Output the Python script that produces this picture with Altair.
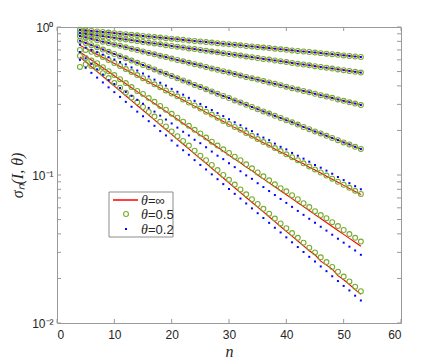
import altair as alt
import pandas as pd

# ---------------- data ----------------
n_values = list(range(4, 54))

red_c1 = [0.957, 0.949, 0.941, 0.933, 0.925, 0.917, 0.909, 0.901, 0.893, 0.885,
          0.878, 0.870, 0.863, 0.855, 0.848, 0.841, 0.834, 0.826, 0.819, 0.812,
          0.805, 0.798, 0.791, 0.785, 0.778, 0.771, 0.765, 0.758, 0.752, 0.745,
          0.739, 0.732, 0.726, 0.720, 0.714, 0.707, 0.701, 0.695, 0.689, 0.683,
          0.678, 0.672, 0.666, 0.660, 0.655, 0.649, 0.643, 0.638, 0.632, 0.627]
red_c2 = [0.911, 0.900, 0.888, 0.877, 0.866, 0.856, 0.845, 0.834, 0.824, 0.814,
          0.803, 0.793, 0.783, 0.774, 0.764, 0.754, 0.745, 0.736, 0.727, 0.717,
          0.709, 0.700, 0.691, 0.682, 0.674, 0.665, 0.657, 0.649, 0.641, 0.633,
          0.625, 0.617, 0.609, 0.602, 0.594, 0.587, 0.579, 0.572, 0.565, 0.558,
          0.551, 0.544, 0.537, 0.531, 0.524, 0.517, 0.511, 0.505, 0.498, 0.492]
red_c3 = [0.869, 0.850, 0.832, 0.814, 0.796, 0.779, 0.762, 0.746, 0.729, 0.714,
          0.698, 0.683, 0.668, 0.654, 0.640, 0.626, 0.612, 0.599, 0.586, 0.573,
          0.561, 0.549, 0.537, 0.525, 0.514, 0.503, 0.492, 0.481, 0.471, 0.460,
          0.450, 0.441, 0.431, 0.422, 0.413, 0.404, 0.395, 0.386, 0.378, 0.370,
          0.362, 0.354, 0.346, 0.339, 0.332, 0.324, 0.317, 0.310, 0.304, 0.297]
red_c4 = [0.808, 0.781, 0.754, 0.729, 0.704, 0.680, 0.657, 0.635, 0.614, 0.593,
          0.573, 0.554, 0.535, 0.517, 0.499, 0.483, 0.466, 0.450, 0.435, 0.421,
          0.406, 0.393, 0.379, 0.367, 0.354, 0.342, 0.331, 0.319, 0.309, 0.298,
          0.288, 0.278, 0.269, 0.260, 0.251, 0.243, 0.234, 0.227, 0.219, 0.211,
          0.204, 0.197, 0.191, 0.184, 0.178, 0.172, 0.166, 0.161, 0.155, 0.150]
red_c5 = [0.752, 0.717, 0.684, 0.652, 0.622, 0.593, 0.566, 0.540, 0.515, 0.491,
          0.468, 0.447, 0.426, 0.406, 0.387, 0.370, 0.352, 0.336, 0.321, 0.306,
          0.292, 0.278, 0.265, 0.253, 0.241, 0.230, 0.219, 0.209, 0.200, 0.190,
          0.182, 0.173, 0.165, 0.158, 0.150, 0.143, 0.137, 0.130, 0.124, 0.119,
          0.113, 0.108, 0.103, 0.0981, 0.0935, 0.0892, 0.0851, 0.0811, 0.0774, 0.0738]
red_c6 = [0.678, 0.637, 0.599, 0.563, 0.530, 0.498, 0.468, 0.440, 0.414, 0.389,
          0.366, 0.344, 0.323, 0.304, 0.286, 0.269, 0.253, 0.238, 0.223, 0.210,
          0.197, 0.186, 0.175, 0.164, 0.154, 0.145, 0.136, 0.128, 0.121, 0.113,
          0.107, 0.100, 0.0942, 0.0885, 0.0832, 0.0783, 0.0736, 0.0692, 0.0650, 0.0611,
          0.0575, 0.0540, 0.0508, 0.0478, 0.0449, 0.0422, 0.0397, 0.0373, 0.0351, 0.0330]
red_c7 = [0.627, 0.582, 0.539, 0.500, 0.464, 0.430, 0.399, 0.370, 0.343, 0.318,
          0.295, 0.274, 0.254, 0.236, 0.218, 0.203, 0.188, 0.174, 0.162, 0.150,
          0.139, 0.129, 0.120, 0.111, 0.103, 0.0954, 0.0884, 0.0820, 0.0761, 0.0705,
          0.0654, 0.0607, 0.0563, 0.0522, 0.0484, 0.0449, 0.0416, 0.0386, 0.0358, 0.0332,
          0.0308, 0.0289, 0.0262, 0.0246, 0.0231, 0.0209, 0.0196, 0.0182, 0.0168, 0.0156]

green_c5 = [0.700, 0.700, 0.680, 0.655, 0.628, 0.598, 0.571, 0.545, 0.520, 0.496,
            0.473, 0.451, 0.430, 0.410, 0.391, 0.373, 0.356, 0.340, 0.324, 0.309,
            0.295, 0.281, 0.268, 0.256, 0.244, 0.232, 0.221, 0.211, 0.202, 0.192,
            0.184, 0.175, 0.167, 0.160, 0.152, 0.145, 0.138, 0.132, 0.126, 0.120,
            0.114, 0.109, 0.104, 0.0991, 0.0945, 0.0900, 0.0859, 0.0819, 0.0782, 0.0745]
green_c6 = [0.637, 0.618, 0.593, 0.569, 0.535, 0.503, 0.473, 0.444, 0.418, 0.393,
            0.370, 0.353, 0.331, 0.312, 0.293, 0.276, 0.259, 0.244, 0.229, 0.215,
            0.202, 0.191, 0.179, 0.168, 0.158, 0.149, 0.141, 0.133, 0.126, 0.118,
            0.111, 0.104, 0.0980, 0.0920, 0.0865, 0.0814, 0.0776, 0.0730, 0.0686, 0.0645,
            0.0607, 0.0570, 0.0536, 0.0511, 0.0480, 0.0452, 0.0425, 0.0399, 0.0376, 0.0355]
green_c7 = [0.537, 0.560, 0.545, 0.525, 0.487, 0.452, 0.419, 0.389, 0.360, 0.334,
            0.310, 0.288, 0.267, 0.248, 0.229, 0.213, 0.197, 0.183, 0.170, 0.158,
            0.146, 0.135, 0.126, 0.117, 0.108, 0.100, 0.0928, 0.0861, 0.0799, 0.0740,
            0.0687, 0.0637, 0.0591, 0.0548, 0.0508, 0.0471, 0.0437, 0.0405, 0.0376, 0.0349,
            0.0323, 0.0300, 0.0278, 0.0258, 0.0239, 0.0222, 0.0206, 0.0191, 0.0176, 0.0164]

blue_c5 = [0.760, 0.725, 0.700, 0.675, 0.650, 0.626, 0.603, 0.580, 0.559, 0.533,
           0.508, 0.485, 0.463, 0.441, 0.420, 0.402, 0.382, 0.365, 0.349, 0.332,
           0.317, 0.302, 0.288, 0.275, 0.262, 0.250, 0.238, 0.227, 0.217, 0.206,
           0.198, 0.188, 0.179, 0.172, 0.163, 0.155, 0.149, 0.141, 0.135, 0.129,
           0.123, 0.117, 0.112, 0.107, 0.102, 0.0969, 0.0924, 0.0881, 0.0841, 0.0801]
blue_c6 = [0.678, 0.615, 0.563, 0.518, 0.477, 0.438, 0.412, 0.387, 0.364, 0.342,
           0.322, 0.303, 0.284, 0.268, 0.252, 0.237, 0.223, 0.209, 0.196, 0.185,
           0.173, 0.164, 0.154, 0.144, 0.135, 0.128, 0.120, 0.113, 0.106, 0.0994,
           0.0942, 0.0880, 0.0829, 0.0779, 0.0732, 0.0689, 0.0648, 0.0609, 0.0572, 0.0538,
           0.0506, 0.0475, 0.0447, 0.0421, 0.0395, 0.0371, 0.0349, 0.0328, 0.0309, 0.0289]
blue_c7 = [0.600, 0.530, 0.490, 0.455, 0.422, 0.391, 0.363, 0.337, 0.312, 0.289,
           0.268, 0.249, 0.231, 0.215, 0.198, 0.185, 0.171, 0.158, 0.147, 0.137,
           0.126, 0.117, 0.109, 0.101, 0.0937, 0.0868, 0.0804, 0.0746, 0.0693, 0.0642,
           0.0595, 0.0552, 0.0512, 0.0475, 0.0440, 0.0409, 0.0379, 0.0351, 0.0326, 0.0302,
           0.0280, 0.0260, 0.0241, 0.0224, 0.0207, 0.0192, 0.0178, 0.0166, 0.0153, 0.0142]

red_curves = [red_c1, red_c2, red_c3, red_c4, red_c5, red_c6, red_c7]
# for the four upper curves the markers sit on the red line
green_curves = [red_c1, red_c2, red_c3, red_c4, green_c5, green_c6, green_c7]
blue_curves = [red_c1, red_c2, red_c3, red_c4, blue_c5, blue_c6, blue_c7]

legend_labels = ["=\u221e", "=0.5", "=0.2"]
x_tick_values = [0, 10, 20, 30, 40, 50, 60]
y_major_ticks = [0.01, 0.1, 1]
y_minor_ticks = [0.02, 0.03, 0.04, 0.05, 0.06, 0.07, 0.08, 0.09,
                 0.2, 0.3, 0.4, 0.5, 0.6, 0.7, 0.8, 0.9]

rows = []
for ci in range(len(red_curves)):
    for n, rv, gv, bv in zip(n_values, red_curves[ci], green_curves[ci], blue_curves[ci]):
        rows.append({"curve": ci, "n": n, "red": rv, "green": gv, "blue": bv})
df = pd.DataFrame(rows)

# ---------------- chart ----------------
W, H = 344, 296
AX = "#9a9a9a"
TXT = "#262626"
xs = alt.Scale(domain=[0, 60], nice=False, zero=False)
ys = alt.Scale(type="log", domain=[0.01, 1], nice=False)

x_axis = alt.Axis(values=x_tick_values, ticks=False, domain=False, grid=False,
                  labelFont="Liberation Sans", labelFontSize=12, labelColor=TXT,
                  labelPadding=6, title="n", titleFont="Liberation Serif",
                  titleFontStyle="italic", titleFontWeight="normal", titleFontSize=16,
                  titleColor=TXT, titleY=33, titleBaseline="alphabetic")
y_axis = alt.Axis(values=y_major_ticks, ticks=False, domain=False, grid=False,
                  labelExpr="datum.value >= 0.5 ? '10\u2070' : (datum.value >= 0.05 ? '10\u207b\u00b9' : '10\u207b\u00b2')",
                  labelFont="Liberation Sans", labelFontSize=12, labelColor=TXT,
                  labelPadding=4, title="\u03c3\u2099(I, \u03b8)", titleFont="Liberation Serif",
                  titleFontStyle="italic", titleFontWeight="normal", titleFontSize=16,
                  titleColor=TXT, titleX=-40, titleY=H / 2, titleAngle=270,
                  titleBaseline="middle", titleAlign="center")

def X(field):
    return alt.X(field, scale=xs, axis=x_axis)

def Y(field):
    return alt.Y(field, scale=ys, axis=y_axis)

base = alt.Chart(df)
lines = base.mark_line(color="#ff0000", strokeWidth=1.1).encode(
    x=X("n:Q"), y=Y("red:Q"), detail="curve:N")
greens = base.mark_point(shape="circle", filled=False, color="#77ac30", size=24,
                         strokeWidth=1.1, opacity=1).encode(x=X("n:Q"), y=Y("green:Q"))
blues = base.mark_point(shape="square", filled=True, color="#0000ff", size=4,
                        opacity=1).encode(x=X("n:Q"), y=Y("blue:Q"))

# inward ticks of the MATLAB-style box
xt = alt.Chart(pd.DataFrame({"t": x_tick_values}))
xt_bottom = xt.mark_rule(color=AX).encode(x=X("t:Q"), y=alt.value(H), y2=alt.value(H - 4))
xt_top = xt.mark_rule(color=AX).encode(x=X("t:Q"), y=alt.value(0), y2=alt.value(4))
yt = alt.Chart(pd.DataFrame({"t": y_major_ticks + y_minor_ticks}))
yt_left = yt.mark_rule(color=AX).encode(y=Y("t:Q"), x=alt.value(0), x2=alt.value(4))
yt_right = yt.mark_rule(color=AX).encode(y=Y("t:Q"), x=alt.value(W), x2=alt.value(W - 4))

# legend box
one = alt.Chart(pd.DataFrame({"a": [0]}))
leg_box = one.mark_rect(fill="white", stroke="#8c8c8c", strokeWidth=1).encode(
    x=alt.value(52), x2=alt.value(116), y=alt.value(165), y2=alt.value(210))
leg_line = one.mark_rule(color="#ff0000", strokeWidth=1.5).encode(
    x=alt.value(56), x2=alt.value(81), y=alt.value(173))
leg_green = one.mark_point(shape="circle", filled=False, color="#77ac30", size=24,
                           strokeWidth=1.1, opacity=1).encode(x=alt.value(69), y=alt.value(187))
leg_blue = one.mark_point(shape="square", filled=True, color="#0000ff", size=4,
                          opacity=1).encode(x=alt.value(69), y=alt.value(202))
leg_layers = [leg_box, leg_line, leg_green, leg_blue]
for lab, yy in zip(legend_labels, [174, 188, 203]):
    leg_layers.append(one.mark_text(text="\u03b8", font="Liberation Serif", fontStyle="italic",
                                    fontSize=14, color=TXT, align="left", baseline="middle").encode(
        x=alt.value(84), y=alt.value(yy)))
    leg_layers.append(one.mark_text(text=lab, font="Liberation Sans", fontSize=13,
                                    color=TXT, align="left", baseline="middle").encode(
        x=alt.value(91), y=alt.value(yy)))

chart = alt.layer(lines, greens, blues, xt_bottom, xt_top, yt_left, yt_right,
                  *leg_layers).properties(
    width=W, height=H,
    autosize=alt.AutoSizeParams(type="none"),
    padding={"left": 49, "top": 19, "right": 30, "bottom": 40},
    background="white",
).configure_view(stroke=AX, strokeWidth=1)

chart.save("out.html", embed_options={"renderer": "svg", "actions": False})
